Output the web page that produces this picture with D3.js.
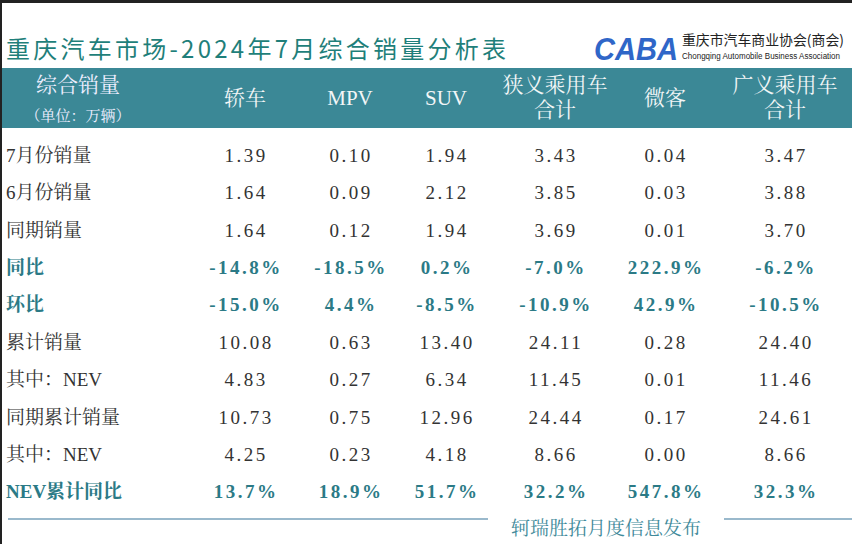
<!DOCTYPE html>
<html><head><meta charset="utf-8">
<script src="https://cdn.jsdelivr.net/npm/d3@7"></script>
<style>body{margin:0;background:#fff}svg{display:block}</style>
</head><body><div></div>
<script>
const columns = ["轿车", "MPV", "SUV", "狭义乘用车|合计", "微客", "广义乘用车|合计"];
const rowLabels = ["7月份销量", "6月份销量", "同期销量", "同比", "环比", "累计销量", "其中：NEV", "同期累计销量", "其中：NEV", "NEV累计同比"];
const values = [
  ["1.39", "0.10", "1.94", "3.43", "0.04", "3.47"],
  ["1.64", "0.09", "2.12", "3.85", "0.03", "3.88"],
  ["1.64", "0.12", "1.94", "3.69", "0.01", "3.70"],
  ["-14.8%", "-18.5%", "0.2%", "-7.0%", "222.9%", "-6.2%"],
  ["-15.0%", "4.4%", "-8.5%", "-10.9%", "42.9%", "-10.5%"],
  ["10.08", "0.63", "13.40", "24.11", "0.28", "24.40"],
  ["4.83", "0.27", "6.34", "11.45", "0.01", "11.46"],
  ["10.73", "0.75", "12.96", "24.44", "0.17", "24.61"],
  ["4.25", "0.23", "4.18", "8.66", "0.00", "8.66"],
  ["13.7%", "18.9%", "51.7%", "32.2%", "547.8%", "32.3%"]
];
const highlightRows = ["同比", "环比", "NEV累计同比"];

const w = 852, h = 544;
const font = "'Liberation Serif','Noto Serif CJK SC','Noto Sans CJK SC',serif";
const teal = "#3b8896", tealText = "#2b7a86";

const svg = d3.select("div").append("svg").attr("width", w).attr("height", h);
svg.append("rect").attr("x", 0).attr("y", 0).attr("width", w).attr("height", 3).attr("fill", "#222");
svg.append("rect").attr("x", 0).attr("y", 0).attr("width", 2).attr("height", h).attr("fill", "#222");

// Title
svg.append("text").attr("x", 6).attr("y", 58).attr("font-family", "'Noto Sans CJK SC',sans-serif")
  .attr("font-size", 24).attr("fill", "#1f7f7a").attr("textLength", 500).text("重庆汽车市场-2024年7月综合销量分析表");
// Logo
svg.append("text").attr("x", 594).attr("y", 60).attr("font-family", "'Liberation Sans',sans-serif")
  .attr("font-weight", "bold").attr("font-style", "italic").attr("font-size", 32).attr("fill", "#2f66c8")
  .attr("textLength", 84).attr("lengthAdjust", "spacingAndGlyphs").text("CABA");
svg.append("text").attr("x", 682).attr("y", 45).attr("font-family", "'Noto Sans CJK SC',sans-serif")
  .attr("font-size", 14).attr("fill", "#222").attr("textLength", 162).attr("lengthAdjust", "spacingAndGlyphs").text("重庆市汽车商业协会(商会)");
svg.append("text").attr("x", 682).attr("y", 59).attr("font-family", "'Liberation Sans Narrow','Liberation Sans',sans-serif")
  .attr("font-size", 8.5).attr("fill", "#222").attr("textLength", 158).attr("lengthAdjust", "spacingAndGlyphs").text("Chongqing Automobile Business Association");

// Header band
svg.append("rect").attr("x", 2).attr("y", 68).attr("width", w - 2).attr("height", 60).attr("fill", teal);

const x = d3.scaleOrdinal().domain(columns).range([245, 350, 446, 555, 665, 785]);
const y = d3.scaleBand().domain(d3.range(rowLabels.length)).range([136, 510]);

svg.append("text").attr("x", 78).attr("y", 92).attr("text-anchor", "middle").attr("font-family", font)
  .attr("font-size", 21).attr("fill", "#eef").text("综合销量");
svg.append("text").attr("x", 78).attr("y", 121).attr("text-anchor", "middle").attr("font-family", font)
  .attr("font-size", 15).attr("fill", "#eef").text("（单位：万辆）");

columns.forEach(c => {
  const parts = c.split("|");
  const t = svg.append("text").attr("x", x(c)).attr("text-anchor", "middle").attr("font-family", font)
    .attr("font-size", 21).attr("fill", "#f2f6f7");
  if (parts.length === 1) t.attr("y", 105).text(c);
  else parts.forEach((p, i) => t.append("tspan").attr("x", x(c)).attr("y", 92 + i * 25).text(p));
});

rowLabels.forEach((r, i) => {
  const hl = highlightRows.includes(r);
  const cy = y(i) + y.bandwidth() / 2 + 7;
  svg.append("text").attr("x", 6).attr("y", cy).attr("font-family", font).attr("font-size", 19)
    .attr("font-weight", hl ? "bold" : "normal").attr("fill", hl ? tealText : "#333").text(r);
  values[i].forEach((v, j) => {
    svg.append("text").attr("x", x(columns[j]) + 1).attr("y", cy).attr("text-anchor", "middle")
      .attr("font-family", font).attr("font-size", 19).attr("letter-spacing", 2.5)
      .attr("font-weight", hl ? "bold" : "normal")
      .attr("fill", hl ? tealText : "#333").text(v);
  });
});

// Footer
svg.append("line").attr("x1", 8).attr("x2", 488).attr("y1", 519).attr("y2", 519).attr("stroke", "#9ab9cc").attr("stroke-width", 2);
svg.append("line").attr("x1", 724).attr("x2", 852).attr("y1", 519).attr("y2", 519).attr("stroke", "#9ab9cc").attr("stroke-width", 2);
svg.append("text").attr("x", 606).attr("y", 535).attr("text-anchor", "middle").attr("font-family", font)
  .attr("font-size", 19).attr("fill", "#3f8a9a").text("轲瑞胜拓月度信息发布");
</script></body></html>
